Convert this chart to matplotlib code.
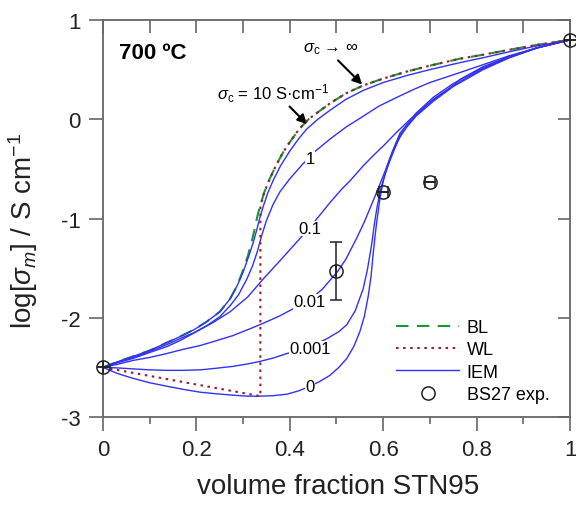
import matplotlib
matplotlib.use("Agg")
import matplotlib.pyplot as plt
from matplotlib.lines import Line2D

plt.rcParams["font.family"] = ["Liberation Sans", "DejaVu Sans"]
plt.rcParams["mathtext.fontset"] = "custom"
plt.rcParams["mathtext.rm"] = "Liberation Sans"
plt.rcParams["mathtext.it"] = "Liberation Sans:italic"

# BL (sigma_c -> inf), hidden under the sigma_c = 10 curve at low fractions
bl_x = [0, 0.03, 0.064, 0.1, 0.137, 0.165, 0.195, 0.222, 0.25, 0.272, 0.287, 0.30, 0.31,
        0.318, 0.325, 0.33, 0.336, 0.345, 0.357, 0.37, 0.386, 0.40, 0.42, 0.44, 0.46, 0.486,
        0.52, 0.557, 0.60, 0.65, 0.70, 0.764, 0.814, 0.87, 0.93, 1.0]
bl_y = [-2.5, -2.445, -2.39, -2.33, -2.25, -2.19, -2.12, -2.04, -1.94, -1.81, -1.68, -1.52, -1.38,
        -1.24, -1.1, -0.99, -0.88, -0.74, -0.6, -0.47, -0.33, -0.23, -0.1, 0.0, 0.07, 0.16,
        0.26, 0.34, 0.41, 0.48, 0.54, 0.61, 0.65, 0.7, 0.75, 0.8]

# WL
wl_x = [0, 0.337, 0.337, 0.345, 0.357, 0.37, 0.386, 0.40, 0.42, 0.44, 0.46, 0.486,
        0.52, 0.557, 0.60, 0.65, 0.70, 0.764, 0.814, 0.87, 0.93, 1.0]
wl_y = [-2.5, -2.79, -0.87, -0.74, -0.6, -0.47, -0.33, -0.23, -0.1, 0.0, 0.07, 0.16,
        0.26, 0.34, 0.41, 0.48, 0.54, 0.61, 0.65, 0.7, 0.75, 0.8]

# IEM curves, sigma_c = 10, 1, 0.1, 0.01, 0.001, 0 S/cm
iem10_x = [0, 0.03, 0.064, 0.1, 0.137, 0.165, 0.195, 0.222, 0.25, 0.272, 0.287, 0.30, 0.315,
           0.323, 0.33, 0.336, 0.343, 0.353, 0.364, 0.38, 0.40, 0.42, 0.436, 0.46, 0.486, 0.52,
           0.557, 0.60, 0.65, 0.70, 0.764, 0.814, 0.87, 0.93, 1.0]
iem10_y = [-2.5, -2.445, -2.39, -2.33, -2.25, -2.19, -2.12, -2.04, -1.94, -1.81, -1.68, -1.54, -1.34,
           -1.22, -1.1, -0.99, -0.88, -0.74, -0.62, -0.47, -0.32, -0.19, -0.1, 0.0, 0.09, 0.2,
           0.29, 0.37, 0.44, 0.5, 0.57, 0.62, 0.68, 0.74, 0.8]

iem1_x = [0, 0.03, 0.064, 0.1, 0.137, 0.165, 0.195, 0.222, 0.25, 0.272, 0.29, 0.308, 0.32, 0.33,
          0.34, 0.35, 0.364, 0.379, 0.40, 0.428, 0.455, 0.486, 0.52, 0.557, 0.59, 0.629, 0.665,
          0.70, 0.764, 0.814, 0.87, 0.93, 1.0]
iem1_y = [-2.5, -2.45, -2.4, -2.34, -2.27, -2.21, -2.15, -2.08, -1.99, -1.88, -1.77, -1.61, -1.48,
          -1.34, -1.17, -1.02, -0.86, -0.73, -0.6, -0.45, -0.32, -0.2, -0.08, 0.03, 0.13, 0.22,
          0.3, 0.37, 0.47, 0.55, 0.64, 0.72, 0.8]

iem01_x = [0, 0.03, 0.064, 0.1, 0.137, 0.165, 0.2, 0.235, 0.272, 0.31, 0.343, 0.38, 0.422, 0.455,
           0.486, 0.51, 0.529, 0.557, 0.58, 0.60, 0.629, 0.66, 0.70, 0.74, 0.764, 0.814, 0.87,
           0.93, 1.0]
iem01_y = [-2.5, -2.455, -2.41, -2.35, -2.29, -2.23, -2.14, -2.05, -1.94, -1.79, -1.61, -1.42, -1.2,
           -1.02, -0.84, -0.71, -0.62, -0.47, -0.36, -0.27, -0.13, 0.01, 0.17, 0.3, 0.4, 0.53,
           0.63, 0.72, 0.8]

iem001_x = [0, 0.03, 0.064, 0.1, 0.137, 0.17, 0.208, 0.24, 0.278, 0.31, 0.336, 0.36, 0.379, 0.407,
            0.443, 0.47, 0.503, 0.52, 0.543, 0.56, 0.575, 0.59, 0.605, 0.62, 0.636, 0.67, 0.707,
            0.75, 0.814, 0.87, 0.93, 1.0]
iem001_y = [-2.5, -2.47, -2.43, -2.4, -2.36, -2.32, -2.28, -2.235, -2.18, -2.12, -2.07, -2.02, -1.98,
            -1.91, -1.82, -1.71, -1.53, -1.41, -1.2, -1.03, -0.86, -0.69, -0.51, -0.32, -0.14, 0.06,
            0.22, 0.36, 0.52, 0.63, 0.72, 0.8]

iem0001_x = [0, 0.03, 0.064, 0.1, 0.137, 0.17, 0.208, 0.24, 0.278, 0.31, 0.336, 0.365, 0.394, 0.44,
             0.48, 0.505, 0.522, 0.54, 0.557, 0.566, 0.575, 0.581, 0.587, 0.595, 0.605, 0.615,
             0.636, 0.67, 0.707, 0.75, 0.814, 0.87, 0.93, 1.0]
iem0001_y = [-2.5, -2.505, -2.515, -2.525, -2.53, -2.53, -2.525, -2.51, -2.49, -2.465, -2.44, -2.405,
             -2.36, -2.3, -2.21, -2.14, -2.07, -1.93, -1.71, -1.52, -1.27, -1.06, -0.88, -0.7,
             -0.54, -0.41, -0.16, 0.04, 0.2, 0.34, 0.51, 0.62, 0.72, 0.8]

iem0_x = [0, 0.03, 0.064, 0.1, 0.137, 0.17, 0.208, 0.24, 0.278, 0.31, 0.336, 0.365, 0.394, 0.42,
          0.443, 0.465, 0.486, 0.505, 0.522, 0.537, 0.55, 0.56, 0.568, 0.574, 0.578, 0.582,
          0.586, 0.593, 0.60, 0.61, 0.62, 0.636, 0.65, 0.67, 0.707, 0.75, 0.814, 0.87, 0.93, 1.0]
iem0_y = [-2.5, -2.56, -2.61, -2.655, -2.69, -2.72, -2.75, -2.765, -2.78, -2.79, -2.79, -2.785,
          -2.77, -2.735, -2.69, -2.64, -2.58, -2.5, -2.41, -2.29, -2.14, -1.98, -1.78, -1.58,
          -1.38, -1.2, -1.04, -0.8, -0.62, -0.46, -0.33, -0.18, -0.08, 0.03, 0.18, 0.33, 0.5,
          0.62, 0.72, 0.8]

# experimental BS27
exp_x = [0, 0.5, 0.6, 0.7, 1.0]
exp_y = [-2.5, -1.53, -0.73, -0.63, 0.8]
exp_yerr = [0, 0.29, 0, 0, 0]
exp_xerr = [0, 0, 0.01, 0.01, 0]

curve_labels = ["1", "0.1", "0.01", "0.001", "0"]
curve_label_y = [-0.40, -1.10, -1.84, -2.31, -2.69]

blue = "#3232f0"
green = "#16983a"
red = "#9b1b2a"
grey = "#666666"

fig = plt.figure(figsize=(5.76, 5.06), dpi=100)
ax = fig.add_axes([0.1788, 0.1739, 0.8108, 0.7846])

ax.plot(bl_x, bl_y, color=green, lw=1.5, ls=(0, (6, 4)), zorder=2)
for xs, ys in [(iem10_x, iem10_y), (iem1_x, iem1_y), (iem01_x, iem01_y),
               (iem001_x, iem001_y), (iem0001_x, iem0001_y), (iem0_x, iem0_y)]:
    ax.plot(xs, ys, color=blue, lw=1.0, zorder=3)
ax.plot(wl_x, wl_y, color=red, lw=1.5, ls=(0, (1.2, 2.2)), zorder=4)

for lab, ly in zip(curve_labels, curve_label_y):
    ax.text(0.443, ly, lab, fontsize=12, ha="center", va="center", zorder=5,
            bbox=dict(fc="white", ec="none", pad=0.3))

ax.errorbar(exp_x, exp_y, yerr=exp_yerr, xerr=exp_xerr, fmt="none", ecolor="#222222",
            elinewidth=1.1, capsize=4.3, capthick=1.1, zorder=6, clip_on=False)
ax.plot(exp_x, exp_y, "o", ms=9.5, mfc="none", mec="#222222", mew=1.1, zorder=7, clip_on=False)

ax.text(0.035, 0.67, "700 ºC", fontsize=16, fontweight="bold", va="center", ha="left")
ax.annotate(r"$\sigma_{\rm c}$ = 10 S·cm$^{-1}$", xy=(0.437, -0.05), xytext=(0.245, 0.27),
            fontsize=12, ha="left", va="center",
            arrowprops=dict(arrowstyle="-|>", color="k", lw=1.5, mutation_scale=14,
                            shrinkA=0, shrinkB=0, relpos=(0.62, 0.0)))
ax.annotate(r"$\sigma_{\rm c}$ → ∞", xy=(0.555, 0.35), xytext=(0.428, 0.72),
            fontsize=12, ha="left", va="center",
            arrowprops=dict(arrowstyle="-|>", color="k", lw=1.5, mutation_scale=14,
                            shrinkA=2, shrinkB=0, relpos=(0.55, 0.0)))

ax.set_xlim(0, 1)
ax.set_ylim(-3, 1)
ax.set_xticks([0, 0.2, 0.4, 0.6, 0.8, 1.0])
ax.set_xticks([0.1, 0.3, 0.5, 0.7, 0.9], minor=True)
ax.set_xticklabels(["0", "0.2", "0.4", "0.6", "0.8", "1"])
ax.set_yticks([-3, -2, -1, 0, 1])
ax.set_yticklabels(["-3", "-2", "-1", "0", "1"])
ax.tick_params(axis="both", which="major", direction="out", length=10, width=1.2,
               color=grey, labelsize=16, labelcolor="#222222", pad=6)
ax.tick_params(axis="x", which="minor", direction="out", length=5, width=1.2, color=grey)
for s in ax.spines.values():
    s.set_color(grey)
    s.set_linewidth(1.3)

top = ax.secondary_xaxis("top")
top.set_xticks([0.1 * i for i in range(11)])
top.tick_params(direction="in", length=9, width=1.2, color=grey, labeltop=False)
top.spines["top"].set_visible(False)
right = ax.secondary_yaxis("right")
right.set_yticks([-3, -2, -1, 0, 1])
right.tick_params(direction="in", length=9, width=1.2, color=grey, labelright=False)
right.spines["right"].set_visible(False)

ax.set_xlabel("volume fraction STN95", fontsize=20, color="#222222")
ax.xaxis.set_label_coords(0.503, -0.14)
ax.set_ylabel(r"log[$\sigma_m$] / S cm$^{-1}$", fontsize=20, color="#222222")
ax.yaxis.set_label_coords(-0.135, 0.47)

handles = [Line2D([], [], color=green, lw=1.5, ls=(0, (6, 4))),
           Line2D([], [], color=red, lw=1.5, ls=(0, (1.2, 2.2))),
           Line2D([], [], color=blue, lw=1.0),
           Line2D([], [], ls="none", marker="o", ms=9.5, mfc="none", mec="#222222", mew=1.1)]
ax.legend(handles, ["BL", "WL", "IEM", "BS27 exp."], loc="upper left",
          bbox_to_anchor=(0.628, 0.247), frameon=False, fontsize=13, handlelength=3.5,
          handletextpad=0.4, labelspacing=0.3, borderpad=0, borderaxespad=0)

fig.savefig("out.png", dpi=100)
